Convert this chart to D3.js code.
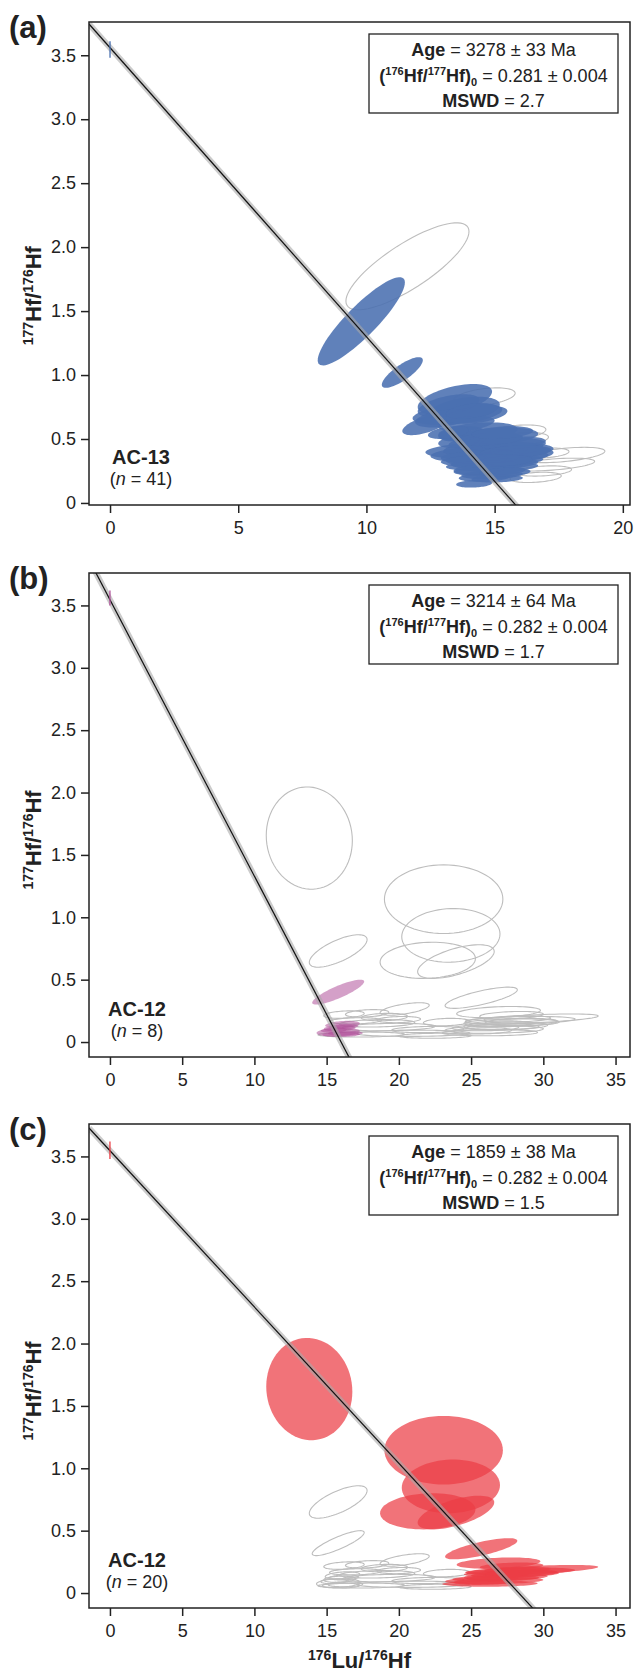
<!DOCTYPE html>
<html>
<head>
<meta charset="utf-8">
<script src="https://cdn.jsdelivr.net/npm/d3@7"></script>
<style>
  body { margin: 0; background: #fff; }
  svg { display: block; }
  text { font-family: "Liberation Sans", Arial, sans-serif; fill: #222; }
</style>
</head>
<body>
<script>
// Ellipses: [176Lu/177Hf centre, 177Hf/176Hf centre, half-width x, half-height y, correlation]
const ac13Used = [
  [9.8, 1.42, 1.7, 0.345, 0.88],
  [11.4, 1.02, 0.8, 0.12, 0.8],
  [13.45, 0.81, 1.45, 0.12, 0.5],
  [13.8, 0.73, 1.4, 0.1, 0.4],
  [13.55, 0.695, 1.75, 0.085, 0.4],
  [12.3, 0.61, 0.9, 0.08, 0.6],
  [13.2, 0.76, 1.2, 0.09, 0.5],
  [13.0, 0.66, 1.1, 0.07, 0.4],
  [14.35, 0.555, 1.55, 0.075, 0.3],
  [15.0, 0.52, 1.7, 0.07, 0.3],
  [13.7, 0.54, 0.9, 0.06, 0.3],
  [14.8, 0.41, 2.5, 0.07, 0.2],
  [14.9, 0.38, 2.4, 0.07, 0.2],
  [15.0, 0.31, 1.7, 0.05, 0.2],
  [14.8, 0.25, 1.4, 0.04, 0.2],
  [14.6, 0.2, 1.0, 0.035, 0.2],
  [14.2, 0.15, 0.7, 0.03, 0.2],
  [15.2, 0.45, 1.8, 0.06, 0.3],
  [14.5, 0.47, 1.3, 0.05, 0.3],
  [15.5, 0.36, 1.6, 0.05, 0.3],
  [14.3, 0.34, 1.2, 0.05, 0.2],
  [15.3, 0.28, 1.4, 0.04, 0.3],
  [14.9, 0.22, 1.2, 0.035, 0.2],
  [15.4, 0.42, 1.5, 0.05, 0.3],
  [14.0, 0.42, 1.0, 0.05, 0.3],
  [15.7, 0.47, 1.3, 0.05, 0.3],
  [14.6, 0.29, 1.5, 0.04, 0.2],
  [13.9, 0.62, 1.1, 0.06, 0.4],
  [14.3, 0.69, 1.2, 0.07, 0.4],
  [13.6, 0.48, 0.8, 0.05, 0.3],
  [15.6, 0.33, 1.3, 0.04, 0.3],
  [14.5, 0.36, 1.6, 0.05, 0.2],
  [14.8, 0.5, 1.3, 0.05, 0.3],
  [15.1, 0.19, 1.0, 0.03, 0.2],
  [14.4, 0.26, 1.0, 0.04, 0.2],
  [15.8, 0.4, 1.4, 0.05, 0.3],
  [14.1, 0.72, 1.0, 0.06, 0.4],
  [13.2, 0.55, 0.8, 0.05, 0.4],
  [15.4, 0.24, 1.0, 0.035, 0.2],
  [14.7, 0.33, 1.8, 0.05, 0.2],
  [15.3, 0.55, 1.2, 0.05, 0.3]
];

const ac13Other = [
  [11.6, 1.85, 2.4, 0.34, 0.8],
  [14.6, 0.83, 1.2, 0.07, 0.4],
  [15.8, 0.55, 1.2, 0.06, 0.4],
  [16.1, 0.5, 1.0, 0.05, 0.3],
  [17.7, 0.375, 1.6, 0.06, 0.5],
  [16.9, 0.39, 1.0, 0.04, 0.3],
  [17.25, 0.3, 1.65, 0.05, 0.5],
  [16.9, 0.25, 1.1, 0.04, 0.3],
  [16.6, 0.2, 1.0, 0.04, 0.3]
];

// AC-12, population used in (b)
const ac12GroupB = [
  [15.8, 0.4, 1.8, 0.1, 0.85],
  [16.1, 0.14, 1.2, 0.03, 0.3],
  [15.8, 0.08, 1.5, 0.035, 0.2],
  [15.9, 0.11, 1.1, 0.025, 0.2],
  [16.0, 0.06, 1.3, 0.02, 0.1],
  [16.2, 0.125, 1.0, 0.02, 0.2],
  [15.5, 0.095, 0.9, 0.02, 0.2],
  [16.3, 0.07, 1.2, 0.02, 0.1]
];

// AC-12, population used in (c)
const ac12GroupC = [
  [13.8, 1.635, 2.98, 0.41, -0.05],
  [23.1, 1.145, 4.1, 0.275, 0.0],
  [23.6, 0.855, 3.4, 0.215, 0.05],
  [22.0, 0.655, 3.3, 0.145, 0.1],
  [23.95, 0.645, 2.65, 0.135, 0.6],
  [25.7, 0.355, 2.5, 0.085, 0.75],
  [26.9, 0.24, 2.9, 0.045, 0.3],
  [27.8, 0.215, 2.2, 0.03, 0.3],
  [29.2, 0.185, 4.6, 0.04, 0.6],
  [28.4, 0.175, 3.8, 0.03, 0.3],
  [27.8, 0.155, 3.3, 0.03, 0.2],
  [27.4, 0.13, 2.9, 0.03, 0.2],
  [26.6, 0.1, 3.4, 0.03, 0.2],
  [26.3, 0.075, 3.3, 0.025, 0.1],
  [27.0, 0.145, 2.0, 0.025, 0.2],
  [28.2, 0.185, 2.3, 0.025, 0.3],
  [26.0, 0.115, 2.3, 0.025, 0.2],
  [28.5, 0.16, 2.5, 0.03, 0.2],
  [25.8, 0.09, 2.0, 0.025, 0.2],
  [27.2, 0.12, 2.5, 0.025, 0.2]
];

// AC-12, analyses in neither population
const ac12Other = [
  [15.8, 0.73, 2.0, 0.13, 0.7],
  [20.4, 0.265, 1.7, 0.05, 0.6],
  [16.2, 0.22, 1.4, 0.03, 0.3],
  [17.8, 0.23, 1.5, 0.03, 0.3],
  [19.0, 0.2, 1.6, 0.03, 0.2],
  [18.5, 0.15, 2.6, 0.03, 0.2],
  [19.3, 0.12, 3.2, 0.03, 0.2],
  [17.4, 0.06, 3.0, 0.02, 0.1],
  [21.0, 0.07, 3.9, 0.025, 0.1],
  [23.3, 0.16, 1.6, 0.03, 0.2],
  [22.0, 0.1, 2.5, 0.025, 0.2],
  [17.0, 0.17, 1.8, 0.025, 0.2],
  [20.0, 0.18, 1.5, 0.025, 0.2],
  [22.5, 0.05, 2.5, 0.02, 0.1]
];

const xTicksA = [0, 5, 10, 15, 20];
const xTicksBC = [0, 5, 10, 15, 20, 25, 30, 35];
const yTicks = [0, 0.5, 1.0, 1.5, 2.0, 2.5, 3.0, 3.5];

const panelIds = ["(a)", "(b)", "(c)"];
const samples = ["AC-13", "AC-12", "AC-12"];
const counts = ["41", "8", "20"];
const ages = ["3278 ± 33 Ma", "3214 ± 64 Ma", "1859 ± 38 Ma"];
const initials = ["0.281 ± 0.004", "0.282 ± 0.004", "0.282 ± 0.004"];
const mswds = ["2.7", "1.7", "1.5"];
const fitYIntercept = [3.559, 3.546, 3.546];   // 1 / (176Hf/177Hf)0
const fitXIntercept = [15.75, 16.0, 28.3];
const interceptErr = [[3.48, 3.61], [3.5, 3.62], [3.48, 3.62]];

const width = 635, height = 1676;
const left = 89, right = 630;

const panels = [
  { top: 22, bottom: 505, xDomain: [-0.82, 20.28], yDomain: [-0.016, 3.76], xTicks: xTicksA,
    used: ac13Used, other: ac13Other, color: "#4a70b0", opacity: 0.88 },
  { top: 573, bottom: 1057, xDomain: [-1.45, 36.0], yDomain: [-0.12, 3.76], xTicks: xTicksBC,
    used: ac12GroupB, other: ac12GroupC.concat(ac12Other), color: "#b0529a", opacity: 0.55 },
  { top: 1124, bottom: 1608, xDomain: [-1.45, 36.0], yDomain: [-0.12, 3.76], xTicks: xTicksBC,
    used: ac12GroupC, other: ac12GroupB.concat(ac12Other), color: "#eb3d45", opacity: 0.72 }
];

const svg = d3.select("body").append("svg")
  .attr("width", width)
  .attr("height", height);

panels.forEach((p, i) => drawPanel(p, i));

// x-axis title under the last panel
const xt = svg.append("text")
  .attr("x", (left + right) / 2)
  .attr("y", 1668)
  .attr("text-anchor", "middle")
  .attr("font-weight", "bold")
  .attr("font-size", 22);
xt.append("tspan").attr("font-size", 14).attr("dy", -8).text("176");
xt.append("tspan").attr("dy", 8).text("Lu/");
xt.append("tspan").attr("font-size", 14).attr("dy", -8).text("176");
xt.append("tspan").attr("dy", 8).text("Hf");

function ellipse(x, y, e) {
  const [cx, cy, sx, sy, r] = e;
  const q = Math.sqrt(1 - r * r);
  const pts = d3.range(73).map(i => {
    const t = i / 72 * 2 * Math.PI;
    return [x(cx + sx * Math.cos(t)), y(cy + sy * (r * Math.cos(t) + q * Math.sin(t)))];
  });
  return d3.line()(pts) + "Z";
}

function drawPanel(p, i) {
  const x = d3.scaleLinear().domain(p.xDomain).range([left, right]);
  const y = d3.scaleLinear().domain(p.yDomain).range([p.bottom, p.top]);
  const g = svg.append("g");

  g.append("clipPath").attr("id", "clip" + i)
    .append("rect")
    .attr("x", left).attr("y", p.top)
    .attr("width", right - left).attr("height", p.bottom - p.top);

  const plot = g.append("g").attr("clip-path", `url(#clip${i})`);

  // excluded analyses as grey outlines
  plot.append("g")
    .selectAll("path")
    .data(p.other)
    .join("path")
    .attr("d", e => ellipse(x, y, e))
    .attr("fill", "none")
    .attr("stroke", "#bdbdbd")
    .attr("stroke-width", 1.1);

  // analyses in the isochron
  plot.append("g")
    .selectAll("path")
    .data(p.used)
    .join("path")
    .attr("d", e => ellipse(x, y, e))
    .attr("fill", p.color)
    .attr("fill-opacity", p.opacity);

  // isochron with its error band
  const fy = v => fitYIntercept[i] * (1 - v / fitXIntercept[i]);
  const ends = [p.xDomain[0], p.xDomain[1]].map(v => [x(v), y(fy(v))]);
  plot.append("path")
    .attr("d", d3.line()(ends))
    .attr("stroke", "#a8a8a8")
    .attr("stroke-opacity", 0.6)
    .attr("stroke-width", 6)
    .attr("fill", "none");
  plot.append("path")
    .attr("d", d3.line()(ends))
    .attr("stroke", "#111")
    .attr("stroke-width", 1.2)
    .attr("fill", "none");

  // initial ratio uncertainty at x = 0
  plot.append("line")
    .attr("x1", x(0)).attr("x2", x(0))
    .attr("y1", y(interceptErr[i][0])).attr("y2", y(interceptErr[i][1]))
    .attr("stroke", p.color)
    .attr("stroke-width", 1.3);

  // frame
  g.append("rect")
    .attr("x", left).attr("y", p.top)
    .attr("width", right - left).attr("height", p.bottom - p.top)
    .attr("fill", "none")
    .attr("stroke", "#222")
    .attr("stroke-width", 1.5);

  // axes
  const yAxis = g.append("g")
    .attr("transform", `translate(${left},0)`)
    .call(d3.axisLeft(y).tickValues(yTicks).tickSize(8).tickPadding(5)
      .tickFormat(d => d === 0 ? "0" : d3.format(".1f")(d)));
  const xAxis = g.append("g")
    .attr("transform", `translate(0,${p.bottom})`)
    .call(d3.axisBottom(x).tickValues(p.xTicks).tickSize(8).tickPadding(8));
  [yAxis, xAxis].forEach(a => {
    a.select(".domain").remove();
    a.attr("font-family", null).attr("font-size", null);
    a.selectAll("line").attr("stroke", "#222").attr("stroke-width", 1.5);
    a.selectAll("text").attr("font-size", 18).attr("fill", "#222");
  });

  // y-axis title
  const yt = g.append("text")
    .attr("transform", `translate(41,${y(1.62)}) rotate(-90)`)
    .attr("text-anchor", "middle")
    .attr("font-weight", "bold")
    .attr("font-size", 22);
  yt.append("tspan").attr("font-size", 14).attr("dy", -8).text("177");
  yt.append("tspan").attr("dy", 8).text("Hf/");
  yt.append("tspan").attr("font-size", 14).attr("dy", -8).text("176");
  yt.append("tspan").attr("dy", 8).text("Hf");

  // panel letter
  g.append("text")
    .attr("x", 9).attr("y", p.top + 16)
    .attr("font-weight", "bold")
    .attr("font-size", 31)
    .text(panelIds[i]);

  // sample name and n
  const sx = i === 0 ? 141 : 137;
  g.append("text")
    .attr("x", sx).attr("y", p.bottom - 41)
    .attr("text-anchor", "middle")
    .attr("font-weight", "bold")
    .attr("font-size", 20)
    .text(samples[i]);
  const nt = g.append("text")
    .attr("x", sx).attr("y", p.bottom - 20)
    .attr("text-anchor", "middle")
    .attr("font-size", 18);
  nt.append("tspan").text("(");
  nt.append("tspan").attr("font-style", "italic").text("n");
  nt.append("tspan").text(` = ${counts[i]})`);

  // result box
  const bx = right - 12 - 249, by = p.top + 12;
  g.append("rect")
    .attr("x", bx).attr("y", by)
    .attr("width", 249).attr("height", 79)
    .attr("fill", "#fff")
    .attr("stroke", "#222")
    .attr("stroke-width", 1.3);
  const cxb = bx + 249 / 2;
  const l1 = g.append("text").attr("x", cxb).attr("y", by + 22)
    .attr("text-anchor", "middle").attr("font-size", 18);
  l1.append("tspan").attr("font-weight", "bold").text("Age");
  l1.append("tspan").text(" = " + ages[i]);

  const l2 = g.append("text").attr("x", cxb).attr("y", by + 48)
    .attr("text-anchor", "middle").attr("font-size", 18);
  l2.append("tspan").attr("font-weight", "bold").text("(");
  l2.append("tspan").attr("font-weight", "bold").attr("font-size", 11).attr("dy", -7).text("176");
  l2.append("tspan").attr("font-weight", "bold").attr("dy", 7).text("Hf/");
  l2.append("tspan").attr("font-weight", "bold").attr("font-size", 11).attr("dy", -7).text("177");
  l2.append("tspan").attr("font-weight", "bold").attr("dy", 7).text("Hf)");
  l2.append("tspan").attr("font-weight", "bold").attr("font-size", 11).attr("dy", 4).text("0");
  l2.append("tspan").attr("dy", -4).text(" = " + initials[i]);

  const l3 = g.append("text").attr("x", cxb).attr("y", by + 73)
    .attr("text-anchor", "middle").attr("font-size", 18);
  l3.append("tspan").attr("font-weight", "bold").text("MSWD");
  l3.append("tspan").text(" = " + mswds[i]);
}
</script>
</body>
</html>
